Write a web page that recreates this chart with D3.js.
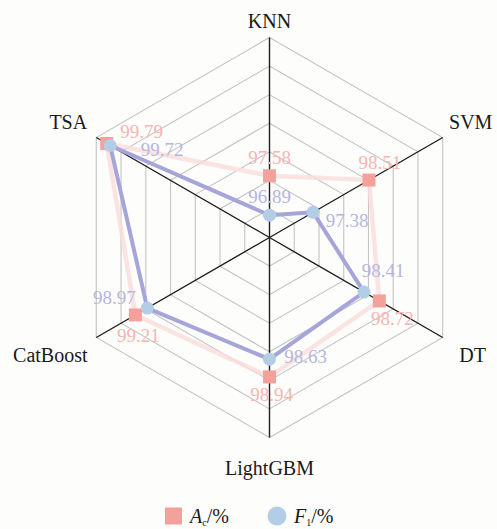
<!DOCTYPE html>
<html>
<head>
<meta charset="utf-8">
<script src="https://cdn.jsdelivr.net/npm/d3@7"></script>
</head>
<body style="margin:0;background:#fdfdfc">
<svg id="chart" width="497" height="529" style="display:block;font-family:'Times New Roman',Tinos,'Liberation Serif',FreeSerif"></svg>
<script>
// Model names, clockwise from the top
const categories = ["KNN", "SVM", "DT", "LightGBM", "CatBoost", "TSA"];
// Accuracy A_c (%) per model
const accValues = [97.58, 98.51, 98.72, 98.94, 99.21, 99.79];
// F1 score (%) per model
const f1Values = [96.89, 97.38, 98.41, 98.63, 98.97, 99.72];
// Radial grid levels
const ringLevels = [96.5, 97, 97.5, 98, 98.5, 99, 99.5, 100];

// value label offsets (px) from each marker
const accLabelOffset = [[0, -18], [11, -17], [13, 18], [2, 18], [3, 21], [35, -12]];
const f1LabelOffset = [[0, -18], [34, 9], [19, -21], [36, -2], [-33, -10], [52, 4]];
// category label positions relative to the outer vertex
const catLabelOffset = [[0, -17], [28, -16], [30, 17], [0, 30], [-46, 17], [-28, -16]];

const svg = d3.select("#chart");
const cx = 269.5, cy = 237.5, R = 200;

const r = d3.scaleLinear().domain([d3.min(ringLevels), d3.max(ringLevels)]).range([0, R]);
const angle = d3.scalePoint().domain(categories).range([0, 2 * Math.PI * (categories.length - 1) / categories.length]);

function pt(cat, v) {
  const a = angle(cat);
  const rr = r(v);
  return [cx + rr * Math.sin(a), cy - rr * Math.cos(a)];
}

const g = svg.append("g");

// hexagonal rings
const ringLine = d3.line().curve(d3.curveLinearClosed);
g.selectAll("path.ring")
  .data(ringLevels.slice(1))
  .join("path")
  .attr("class", "ring")
  .attr("d", lv => ringLine(categories.map(c => pt(c, lv))))
  .attr("fill", "none")
  .attr("stroke", "#c4c4c4")
  .attr("stroke-width", 1.1);

// spokes
g.selectAll("line.spoke")
  .data(categories)
  .join("line")
  .attr("class", "spoke")
  .attr("x1", cx).attr("y1", cy)
  .attr("x2", c => pt(c, d3.max(ringLevels))[0])
  .attr("y2", c => pt(c, d3.max(ringLevels))[1])
  .attr("stroke", "#1e1e1e")
  .attr("stroke-width", 1.4);

// series lines
const seriesLine = d3.line().curve(d3.curveLinearClosed);
g.append("path")
  .attr("d", seriesLine(categories.map((c, i) => pt(c, accValues[i]))))
  .attr("fill", "none")
  .attr("stroke", "#fadcd9")
  .attr("stroke-opacity", 0.8)
  .attr("stroke-width", 4.5)
  .attr("stroke-linejoin", "round");

g.append("path")
  .attr("d", seriesLine(categories.map((c, i) => pt(c, f1Values[i]))))
  .attr("fill", "none")
  .attr("stroke", "#a5a5d9")
  .attr("stroke-width", 4)
  .attr("stroke-linejoin", "round");

// markers
const sq = 13;
g.selectAll("rect.acc")
  .data(categories)
  .join("rect")
  .attr("class", "acc")
  .attr("x", (c, i) => pt(c, accValues[i])[0] - sq / 2)
  .attr("y", (c, i) => pt(c, accValues[i])[1] - sq / 2)
  .attr("width", sq).attr("height", sq)
  .attr("fill", "#f4a19c");

g.selectAll("circle.f1")
  .data(categories)
  .join("circle")
  .attr("class", "f1")
  .attr("cx", (c, i) => pt(c, f1Values[i])[0])
  .attr("cy", (c, i) => pt(c, f1Values[i])[1])
  .attr("r", 6.5)
  .attr("fill", "#b4cde6");

// value labels (baseline ~0.32em below the text centre)
g.selectAll("text.accLabel")
  .data(categories)
  .join("text")
  .attr("class", "accLabel")
  .attr("x", (c, i) => pt(c, accValues[i])[0] + accLabelOffset[i][0])
  .attr("y", (c, i) => pt(c, accValues[i])[1] + accLabelOffset[i][1] + 6)
  .attr("text-anchor", "middle")
  .attr("font-family", "Tinos")
  .attr("font-size", 19)
  .attr("fill", "#f5b5b0")
  .text((c, i) => accValues[i].toFixed(2));

g.selectAll("text.f1Label")
  .data(categories)
  .join("text")
  .attr("class", "f1Label")
  .attr("x", (c, i) => pt(c, f1Values[i])[0] + f1LabelOffset[i][0])
  .attr("y", (c, i) => pt(c, f1Values[i])[1] + f1LabelOffset[i][1] + 6)
  .attr("text-anchor", "middle")
  .attr("font-family", "Tinos")
  .attr("font-size", 19)
  .attr("fill", "#b6b6dd")
  .text((c, i) => f1Values[i].toFixed(2));

// category labels
g.selectAll("text.cat")
  .data(categories)
  .join("text")
  .attr("class", "cat")
  .attr("x", (c, i) => pt(c, d3.max(ringLevels))[0] + catLabelOffset[i][0])
  .attr("y", (c, i) => pt(c, d3.max(ringLevels))[1] + catLabelOffset[i][1] + 7)
  .attr("text-anchor", "middle")
  .attr("font-family", "Times New Roman")
  .attr("font-size", 20)
  .attr("fill", "#1a1a1a")
  .text(c => c);

// legend
const lg = svg.append("g").attr("transform", "translate(0,516)");
lg.append("rect").attr("x", 165).attr("y", -8.5).attr("width", 17).attr("height", 17).attr("fill", "#f4a19c");
const t1 = lg.append("text").attr("x", 190).attr("y", 7)
  .attr("font-family", "Liberation Serif").attr("font-size", 20).attr("fill", "#1a1a1a");
t1.append("tspan").attr("font-style", "italic").text("A");
t1.append("tspan").attr("font-size", 10).attr("dy", 3).text("c");
t1.append("tspan").attr("dy", -3).text("/%");

lg.append("circle").attr("cx", 277).attr("cy", 0).attr("r", 9.5).attr("fill", "#b4cde6");
const t2 = lg.append("text").attr("x", 294).attr("y", 7)
  .attr("font-family", "Liberation Serif").attr("font-size", 20).attr("fill", "#1a1a1a");
t2.append("tspan").attr("font-style", "italic").text("F");
t2.append("tspan").attr("font-size", 10).attr("dy", 3).text("1");
t2.append("tspan").attr("dy", -3).text("/%");
</script>
</body>
</html>
